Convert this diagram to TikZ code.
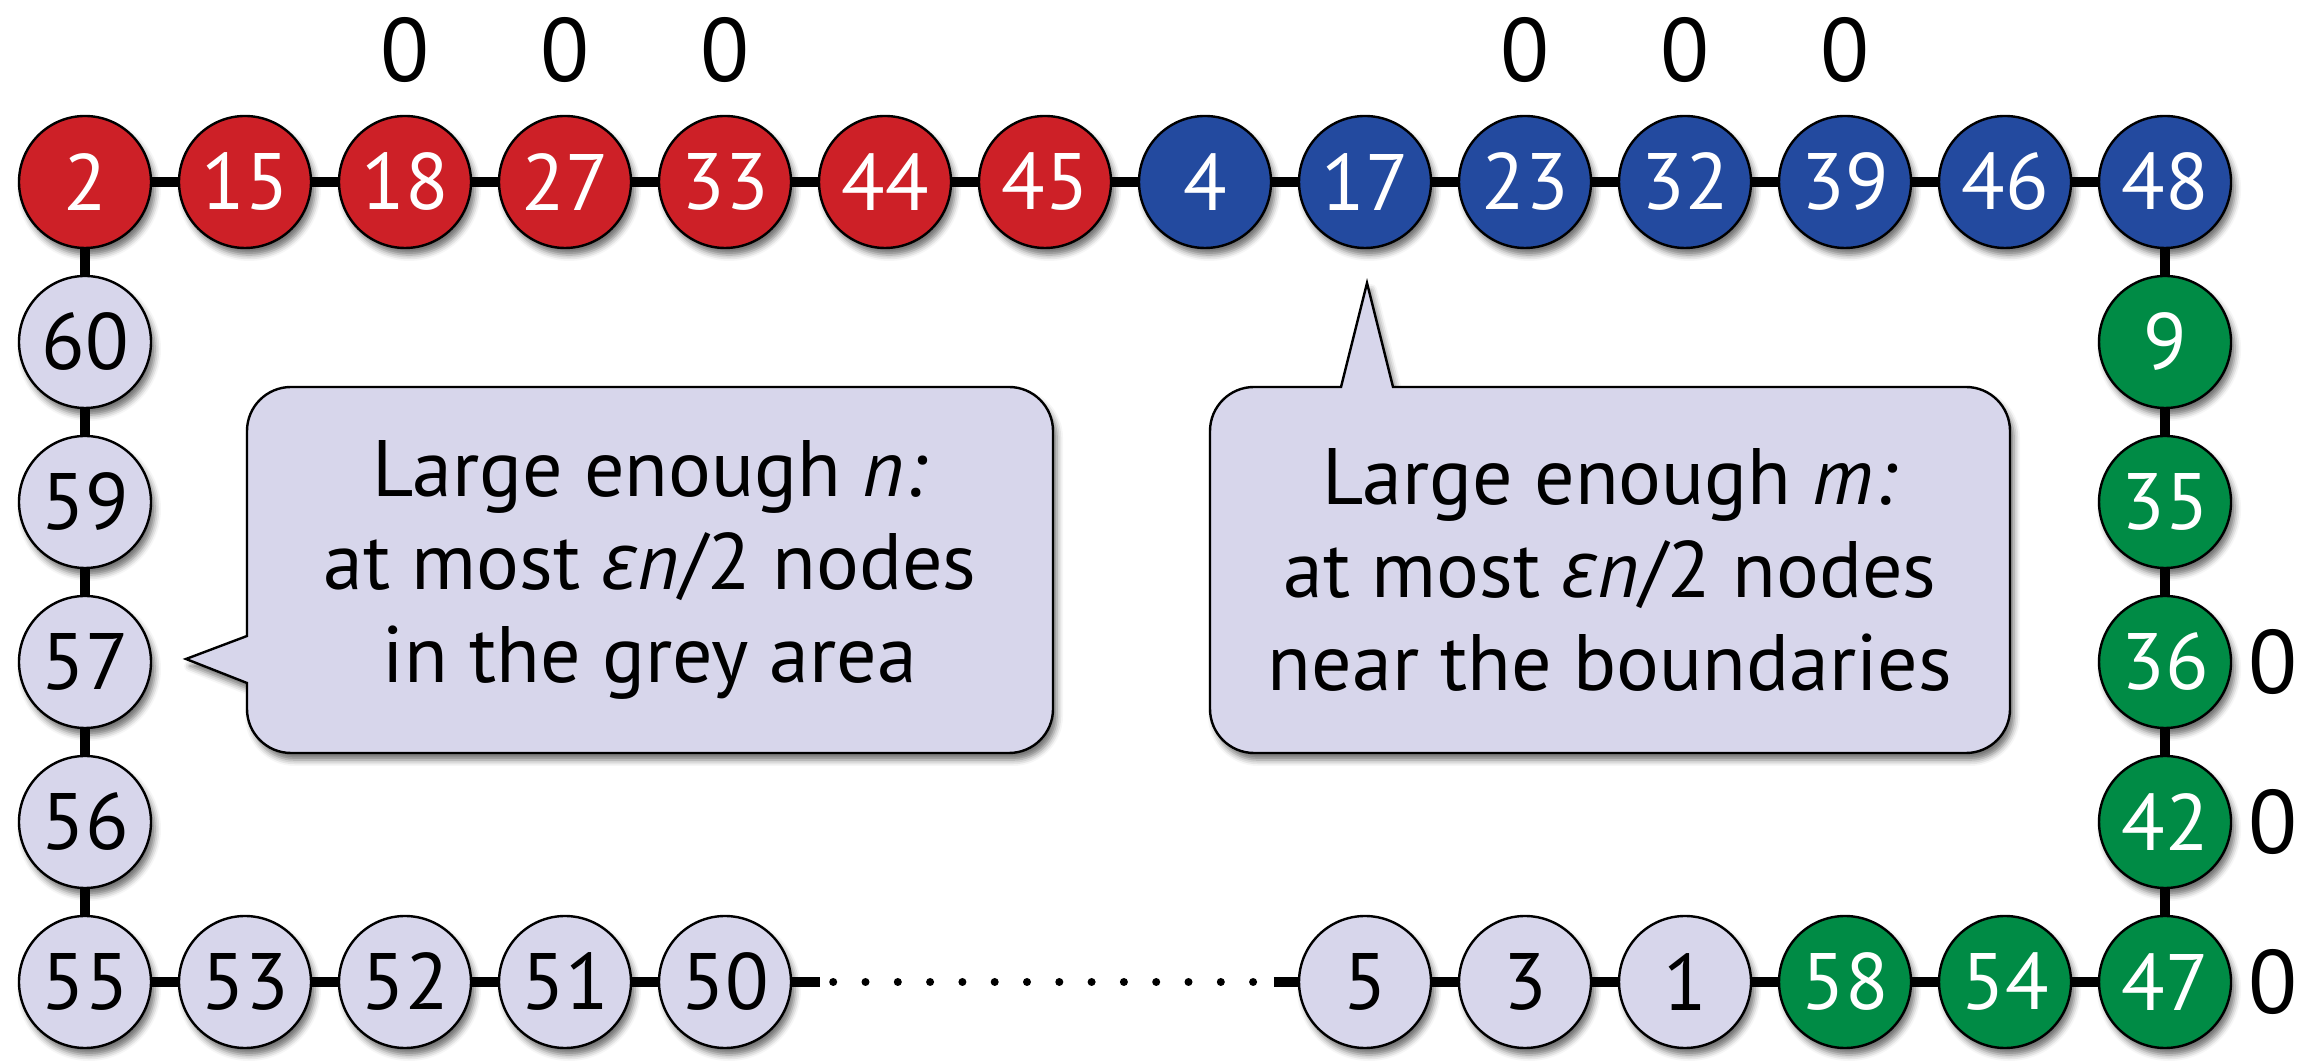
\documentclass[tikz,border=0pt]{standalone}
\usepackage{fontspec}
\setmainfont{PT Sans}
\newfontfamily\grkfont{Open Sans}
\usetikzlibrary{shadows.blur,backgrounds,calc}

\definecolor{nred}{HTML}{CD2027}
\definecolor{nblue}{HTML}{234A9F}
\definecolor{ngreen}{HTML}{008B45}
\definecolor{nlav}{HTML}{D7D6EB}

\tikzset{
  softshadow/.style={blur shadow={shadow xshift=2pt, shadow yshift=-3.5pt,
      shadow blur radius=3pt, shadow opacity=55}},
  vtx/.style={circle, draw=black, line width=1.2pt, minimum size=66pt,
      inner sep=0pt, font=\fontsize{40}{46}\selectfont, softshadow},
  rv/.style={vtx, fill=nred, text=white},
  bv/.style={vtx, fill=nblue, text=white},
  gv/.style={vtx, fill=ngreen, text=white},
  lv/.style={vtx, fill=nlav, text=black},
  conn/.style={line width=5pt, black},
  dotline/.style={line width=4pt, black, line cap=round, dash pattern=on 0pt off 16.15pt},
  zlab/.style={font=\fontsize{45}{50}\selectfont, inner sep=0pt},
  bubble/.style={fill=nlav, draw=black, line width=1.2pt, softshadow},
  btext/.style={align=center, font=\fontsize{40}{46.5}\selectfont}
}

\begin{document}
\begin{tikzpicture}[x=0.5pt,y=0.5pt]
\useasboundingbox (0,0) rectangle (2322,1064);

% speech bubbles
\path[bubble] (291,677) -- (1009,677) arc[start angle=90,end angle=0,radius=22pt]
  -- (1053,355) arc[start angle=0,end angle=-90,radius=22pt]
  -- (291,311) arc[start angle=-90,end angle=-180,radius=22pt]
  -- (247,381) -- (186,405) -- (247,428)
  -- (247,633) arc[start angle=180,end angle=90,radius=22pt] -- cycle;
\node[btext] (noteN) at (650,494)
  {Large enough \textit{n:}\\at most {\grkfont\itshape ε}\textit{n}/2 nodes\\in the grey area};

\path[bubble] (1254,677) -- (1341,677) -- (1367,781) -- (1393,677)
  -- (1966,677) arc[start angle=90,end angle=0,radius=22pt]
  -- (2010,355) arc[start angle=0,end angle=-90,radius=22pt]
  -- (1254,311) arc[start angle=-90,end angle=-180,radius=22pt]
  -- (1210,633) arc[start angle=180,end angle=90,radius=22pt] -- cycle;
\node[btext] (noteM) at (1610,494)
  {Large enough \textit{m:}\\at most {\grkfont\itshape ε}\textit{n}/2 nodes\\near the boundaries};

% top row
\foreach \lab/\st [count=\i from 0] in
  {2/rv,15/rv,18/rv,27/rv,33/rv,44/rv,45/rv,4/bv,17/bv,23/bv,32/bv,39/bv,46/bv,48/bv}
  \node[\st] (n\lab) at ({85+160*\i},882) {\lab};

% right column
\foreach \lab [count=\j from 1] in {9,35,36,42}
  \node[gv] (n\lab) at (2165,{882-160*\j}) {\lab};

% left column
\foreach \lab [count=\j from 1] in {60,59,57,56}
  \node[lv] (n\lab) at (85,{882-160*\j}) {\lab};

% bottom row
\foreach \lab/\st/\i in {55/lv/0,53/lv/1,52/lv/2,51/lv/3,50/lv/4,
    5/lv/8,3/lv/9,1/lv/10,58/gv/11,54/gv/12,47/gv/13}
  \node[\st] (n\lab) at ({85+160*\i},82) {\lab};

% zero labels
\foreach \lab in {18,27,33,23,32,39}
  \node[zlab] (z\lab) at ([yshift=66pt]n\lab.center) {0};
\foreach \lab in {36,42,47}
  \node[zlab] (z\lab) at ([xshift=54pt]n\lab.center) {0};

% connectors
\begin{scope}[on background layer]
  \foreach \a/\b in {2/15,15/18,18/27,27/33,33/44,44/45,45/4,4/17,17/23,23/32,
      32/39,39/46,46/48,48/9,9/35,35/36,36/42,42/47,47/54,54/58,58/1,1/3,3/5,
      50/51,51/52,52/53,53/55,55/56,56/57,57/59,59/60,60/2}
    \draw[conn] (n\a) -- (n\b);
  \draw[conn] (n50) -- ([xshift=14pt]n50.east);
  \draw[conn] ([xshift=-12pt]n5.west) -- (n5);
  \draw[dotline] ([xshift=20.5pt]n50.east) -- ([xshift=-22pt]n5.west);
\end{scope}
\end{tikzpicture}
\end{document}
